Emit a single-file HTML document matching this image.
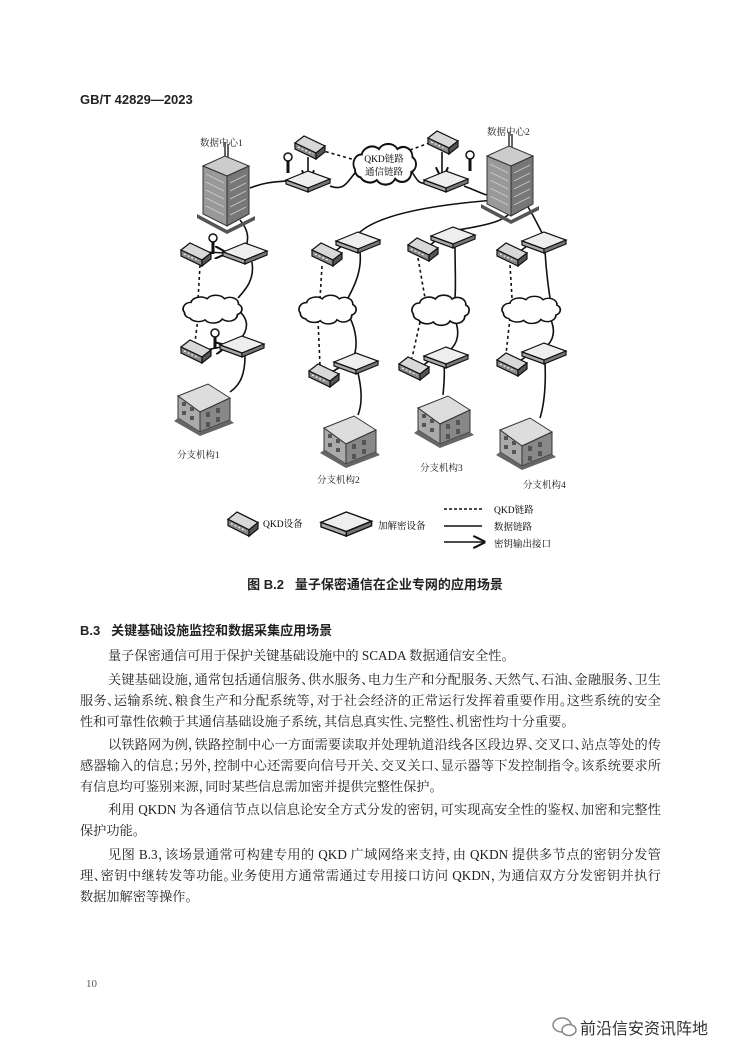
<!DOCTYPE html>
<html><head><meta charset="utf-8">
<style>
html,body{margin:0;padding:0;background:#fff;}
body{width:750px;height:1060px;position:relative;overflow:hidden;font-family:"Liberation Serif","Noto Serif CJK SC",serif;color:#222;}
.a{position:absolute;white-space:nowrap;}
.ln{position:absolute;left:80px;width:581px;font-size:13.2px;line-height:18px;text-align:justify;text-align-last:justify;white-space:nowrap;font-feature-settings:"halt" 1;}
.ln.i{left:108px;width:553px;}
.ln.e{text-align-last:left;}
</style></head><body>
<div class="a" style="left:80px;top:92px;font-size:13px;font-weight:bold;font-family:'Liberation Sans','Noto Sans CJK SC',sans-serif;">GB/T 42829—2023</div>

<svg width="750" height="600" style="position:absolute;left:0;top:0" xmlns="http://www.w3.org/2000/svg">
<defs>
<g id="q">
 <polygon points="0,7 9,0 30,10 21,17" fill="#d8d8d8" stroke="#111" stroke-width="1.2"/>
 <polygon points="0,7 21,17 21,23 0,13" fill="#888" stroke="#111" stroke-width="1.2"/>
 <polygon points="21,17 30,10 30,16 21,23" fill="#555" stroke="#111" stroke-width="1.2"/>
 <line x1="3" y1="11" x2="18" y2="18" stroke="#eee" stroke-width="1.3" stroke-dasharray="2,2"/>
</g>
<g id="e">
 <polygon points="0,9 22,0 44,8 22,17" fill="#eee" stroke="#111" stroke-width="1.2"/>
 <polygon points="0,9 22,17 22,21 0,13" fill="#aaa" stroke="#111" stroke-width="1.2"/>
 <polygon points="22,17 44,8 44,12 22,21" fill="#777" stroke="#111" stroke-width="1.2"/>
</g>
<path id="c" d="M6,18 a7,7 0 0,1 6,-11 a9,7 0 0,1 15,-4 a9,7 0 0,1 16,0 a8,7 0 0,1 13,6 a6,6 0 0,1 -1,11 a8,7 0 0,1 -14,5 a9,7 0 0,1 -16,1 a9,7 0 0,1 -14,-2 a6,6 0 0,1 -5,-6 z" fill="#fff" stroke="#111" stroke-width="1.6"/>
<g id="k"><circle cx="0" cy="0" r="4" fill="#fff" stroke="#111" stroke-width="1.5"/><rect x="-1.5" y="4" width="3" height="12" fill="#111"/></g>
<g id="b">
 <polygon points="0,20 30,8 52,22 22,36" fill="#ddd" stroke="#333" stroke-width="1"/>
 <polygon points="0,20 22,36 22,56 0,42" fill="#aaa" stroke="#333" stroke-width="1"/>
 <polygon points="22,36 52,22 52,44 22,56" fill="#888" stroke="#333" stroke-width="1"/>
 <polygon points="0,42 22,56 52,44 56,47 22,60 -4,45" fill="#666"/>
 <g fill="#555"><rect x="4" y="26" width="4" height="4"/><rect x="12" y="31" width="4" height="4"/><rect x="4" y="35" width="4" height="4"/><rect x="12" y="40" width="4" height="4"/><rect x="28" y="36" width="4" height="5"/><rect x="38" y="32" width="4" height="5"/><rect x="28" y="46" width="4" height="5"/><rect x="38" y="41" width="4" height="5"/></g>
</g>
<g id="t">
 <polygon points="0,14 22,4 46,14 24,24" fill="#ccc" stroke="#333"/>
 <polygon points="0,14 24,24 24,74 0,62" fill="#999" stroke="#333"/>
 <polygon points="24,24 46,14 46,62 24,74" fill="#777" stroke="#333"/>
 <polygon points="-6,62 24,78 52,64 52,68 24,82 -6,66" fill="#555"/>
 <g stroke="#ccc" stroke-width="0.8"><line x1="3" y1="22" x2="21" y2="31"/><line x1="3" y1="30" x2="21" y2="39"/><line x1="3" y1="38" x2="21" y2="47"/><line x1="3" y1="46" x2="21" y2="55"/><line x1="3" y1="54" x2="21" y2="63"/><line x1="27" y1="31" x2="43" y2="23"/><line x1="27" y1="39" x2="43" y2="31"/><line x1="27" y1="47" x2="43" y2="39"/><line x1="27" y1="55" x2="43" y2="47"/><line x1="27" y1="63" x2="43" y2="55"/></g>
 <line x1="22" y1="4" x2="22" y2="-10" stroke="#333" stroke-width="1.5"/><line x1="25" y1="5" x2="25" y2="-8" stroke="#333" stroke-width="1.5"/>
</g>
<marker id="ar" markerWidth="8" markerHeight="8" refX="7" refY="4" orient="auto"><path d="M0,0 L8,4 L0,8" fill="none" stroke="#111" stroke-width="1.3"/></marker>
</defs>
<g font-family="Liberation Serif,Noto Serif CJK SC,serif" font-size="9.5" fill="#222">
<text x="200" y="146">数据中心1</text>
<text x="487" y="135">数据中心2</text>
<text x="177" y="458">分支机构1</text>
<text x="317" y="483">分支机构2</text>
<text x="420" y="471">分支机构3</text>
<text x="523" y="488">分支机构4</text>
</g>
<g fill="none" stroke="#111" stroke-width="1.6">
<path d="M250,188 C265,182 275,182 287,181"/>
<path d="M330,186 C345,192 348,180 356,172"/>
<path d="M412,172 C418,182 420,184 426,183"/>
<path d="M464,186 C480,192 485,196 498,197"/>
<path d="M496,200 C430,205 375,215 357,235"/>
<path d="M512,208 C510,222 480,226 458,230"/>
<path d="M528,207 C535,218 540,230 545,238"/>
<path d="M240,220 C250,232 248,240 246,248"/>
<path d="M252,262 C255,280 245,290 238,298"/>
<path d="M238,310 C250,320 248,330 240,340"/>
<path d="M245,356 C245,375 240,385 230,392"/>
<path d="M360,252 C362,270 355,285 348,298"/>
<path d="M350,318 C356,330 358,345 354,356"/>
<path d="M358,373 C362,390 362,405 358,415"/>
<path d="M455,247 C455,265 456,285 455,298"/>
<path d="M455,320 C460,332 458,343 450,350"/>
<path d="M444,365 C445,375 444,385 443,395"/>
<path d="M545,250 C546,270 548,285 550,298"/>
<path d="M550,318 C556,330 554,340 545,348"/>
<path d="M545,362 C546,385 544,405 540,418"/>
<path d="M206,252 L226,253" marker-end="url(#ar)"/>
<path d="M206,350 L226,346" marker-end="url(#ar)"/>
<path d="M308,157 L308,181" marker-end="url(#ar)"/>
<path d="M442,152 L442,178" marker-end="url(#ar)"/>
<path d="M330,255 L342,246"/><path d="M425,250 L436,240"/><path d="M515,255 L527,246"/>
<path d="M330,373 L342,366"/><path d="M420,368 L430,360"/><path d="M515,364 L527,356"/>
</g>
<g fill="none" stroke="#111" stroke-width="1.6" stroke-dasharray="3,3">
<path d="M320,150 L355,160"/><path d="M410,150 L432,142"/>
<path d="M200,265 L198,300"/><path d="M198,318 L195,342"/>
<path d="M322,266 L320,298"/><path d="M318,320 L320,366"/>
<path d="M418,258 L425,298"/><path d="M420,322 L412,358"/>
<path d="M510,265 L512,298"/><path d="M510,318 L506,354"/>
</g>
<use href="#t" x="203" y="152"/>
<use href="#t" x="487" y="142"/>
<use href="#c" transform="translate(348,145) scale(1.15,1.35)"/>
<text x="384" y="162" text-anchor="middle" font-size="9.5" font-family="Liberation Serif,Noto Serif CJK SC,serif">QKD链路</text>
<text x="384" y="175" text-anchor="middle" font-size="9.5" font-family="Liberation Serif,Noto Serif CJK SC,serif">通信链路</text>
<use href="#q" x="295" y="136"/><use href="#e" x="286" y="171"/><use href="#k" x="288" y="157"/>
<use href="#q" x="428" y="131"/><use href="#e" x="424" y="171"/><use href="#k" x="470" y="155"/>
<use href="#q" x="181" y="243"/><use href="#e" x="223" y="243"/><use href="#k" x="213" y="238"/>
<use href="#c" transform="translate(178,296) scale(1.08,0.92)"/>
<use href="#q" x="181" y="340"/><use href="#e" x="220" y="336"/><use href="#k" x="215" y="333"/>
<use href="#b" x="178" y="376"/>
<use href="#q" x="312" y="243"/><use href="#e" x="336" y="232"/>
<use href="#c" transform="translate(294,296) scale(1.05,0.95)"/>
<use href="#q" x="309" y="364"/><use href="#e" x="334" y="353"/>
<use href="#b" x="324" y="408"/>
<use href="#q" x="408" y="238"/><use href="#e" x="431" y="227"/>
<use href="#c" transform="translate(407,296) scale(1.05,1.0)"/>
<use href="#q" x="399" y="357"/><use href="#e" x="424" y="347"/>
<use href="#b" x="418" y="388"/>
<use href="#q" x="497" y="243"/><use href="#e" x="522" y="232"/>
<use href="#c" transform="translate(497,297) scale(1.07,0.9)"/>
<use href="#q" x="497" y="353"/><use href="#e" x="522" y="343"/>
<use href="#b" x="500" y="410"/>
<g transform="translate(228,512) scale(1.0,1.05)"><use href="#q"/></g>
<text x="263" y="527" font-size="9.5" font-family="Liberation Serif,Noto Serif CJK SC,serif">QKD设备</text>
<g transform="translate(321,512) scale(1.15,1.15)"><use href="#e"/></g>
<text x="378" y="529" font-size="9.5" font-family="Liberation Serif,Noto Serif CJK SC,serif">加解密设备</text>
<line x1="444" y1="509" x2="482" y2="509" stroke="#111" stroke-width="1.6" stroke-dasharray="3,2"/>
<line x1="444" y1="526" x2="482" y2="526" stroke="#111" stroke-width="1.6"/>
<line x1="444" y1="542" x2="484" y2="542" stroke="#111" stroke-width="1.6" marker-end="url(#ar)"/>
<g font-size="9.5" font-family="Liberation Serif,Noto Serif CJK SC,serif"><text x="494" y="513">QKD链路</text><text x="494" y="530">数据链路</text><text x="494" y="547">密钥输出接口</text></g>
</svg>

<div class="a" style="left:0;width:750px;text-align:center;top:574px;font-size:13px;font-weight:bold;font-family:'Liberation Sans','Noto Sans CJK SC',sans-serif;">图 B.2&nbsp;&nbsp;&nbsp;量子保密通信在企业专网的应用场景</div>
<div class="a" style="left:80px;top:620px;font-size:13px;font-weight:bold;font-family:'Liberation Sans','Noto Sans CJK SC',sans-serif;">B.3&nbsp;&nbsp;&nbsp;关键基础设施监控和数据采集应用场景</div>

<div class="ln i e" style="top:647px">量子保密通信可用于保护关键基础设施中的 SCADA 数据通信安全性。</div>
<div class="ln i" style="top:671px">关键基础设施，通常包括通信服务、供水服务、电力生产和分配服务、天然气、石油、金融服务、卫生</div>
<div class="ln" style="top:692px">服务、运输系统、粮食生产和分配系统等，对于社会经济的正常运行发挥着重要作用。这些系统的安全</div>
<div class="ln e" style="top:713px">性和可靠性依赖于其通信基础设施子系统，其信息真实性、完整性、机密性均十分重要。</div>
<div class="ln i" style="top:736px">以铁路网为例，铁路控制中心一方面需要读取并处理轨道沿线各区段边界、交叉口、站点等处的传</div>
<div class="ln" style="top:757px">感器输入的信息；另外，控制中心还需要向信号开关、交叉关口、显示器等下发控制指令。该系统要求所</div>
<div class="ln e" style="top:778px">有信息均可鉴别来源，同时某些信息需加密并提供完整性保护。</div>
<div class="ln i" style="top:801px">利用 QKDN 为各通信节点以信息论安全方式分发的密钥，可实现高安全性的鉴权、加密和完整性</div>
<div class="ln e" style="top:822px">保护功能。</div>
<div class="ln i" style="top:846px">见图 B.3，该场景通常可构建专用的 QKD 广域网络来支持，由 QKDN 提供多节点的密钥分发管</div>
<div class="ln" style="top:867px">理、密钥中继转发等功能。业务使用方通常需通过专用接口访问 QKDN，为通信双方分发密钥并执行</div>
<div class="ln e" style="top:888px">数据加解密等操作。</div>

<div class="a" style="left:86px;top:978px;font-size:11px;color:#555;">10</div>
<svg width="26" height="22" style="position:absolute;left:552px;top:1016px"><ellipse cx="10" cy="9" rx="9" ry="7" fill="none" stroke="#888" stroke-width="1.5"/><ellipse cx="17" cy="14" rx="7" ry="5.5" fill="#fff" stroke="#888" stroke-width="1.5"/></svg>
<div class="a" style="left:580px;top:1015px;font-size:16px;color:#333;font-family:'Liberation Sans','Noto Sans CJK SC',sans-serif;">前沿信安资讯阵地</div>
</body></html>
